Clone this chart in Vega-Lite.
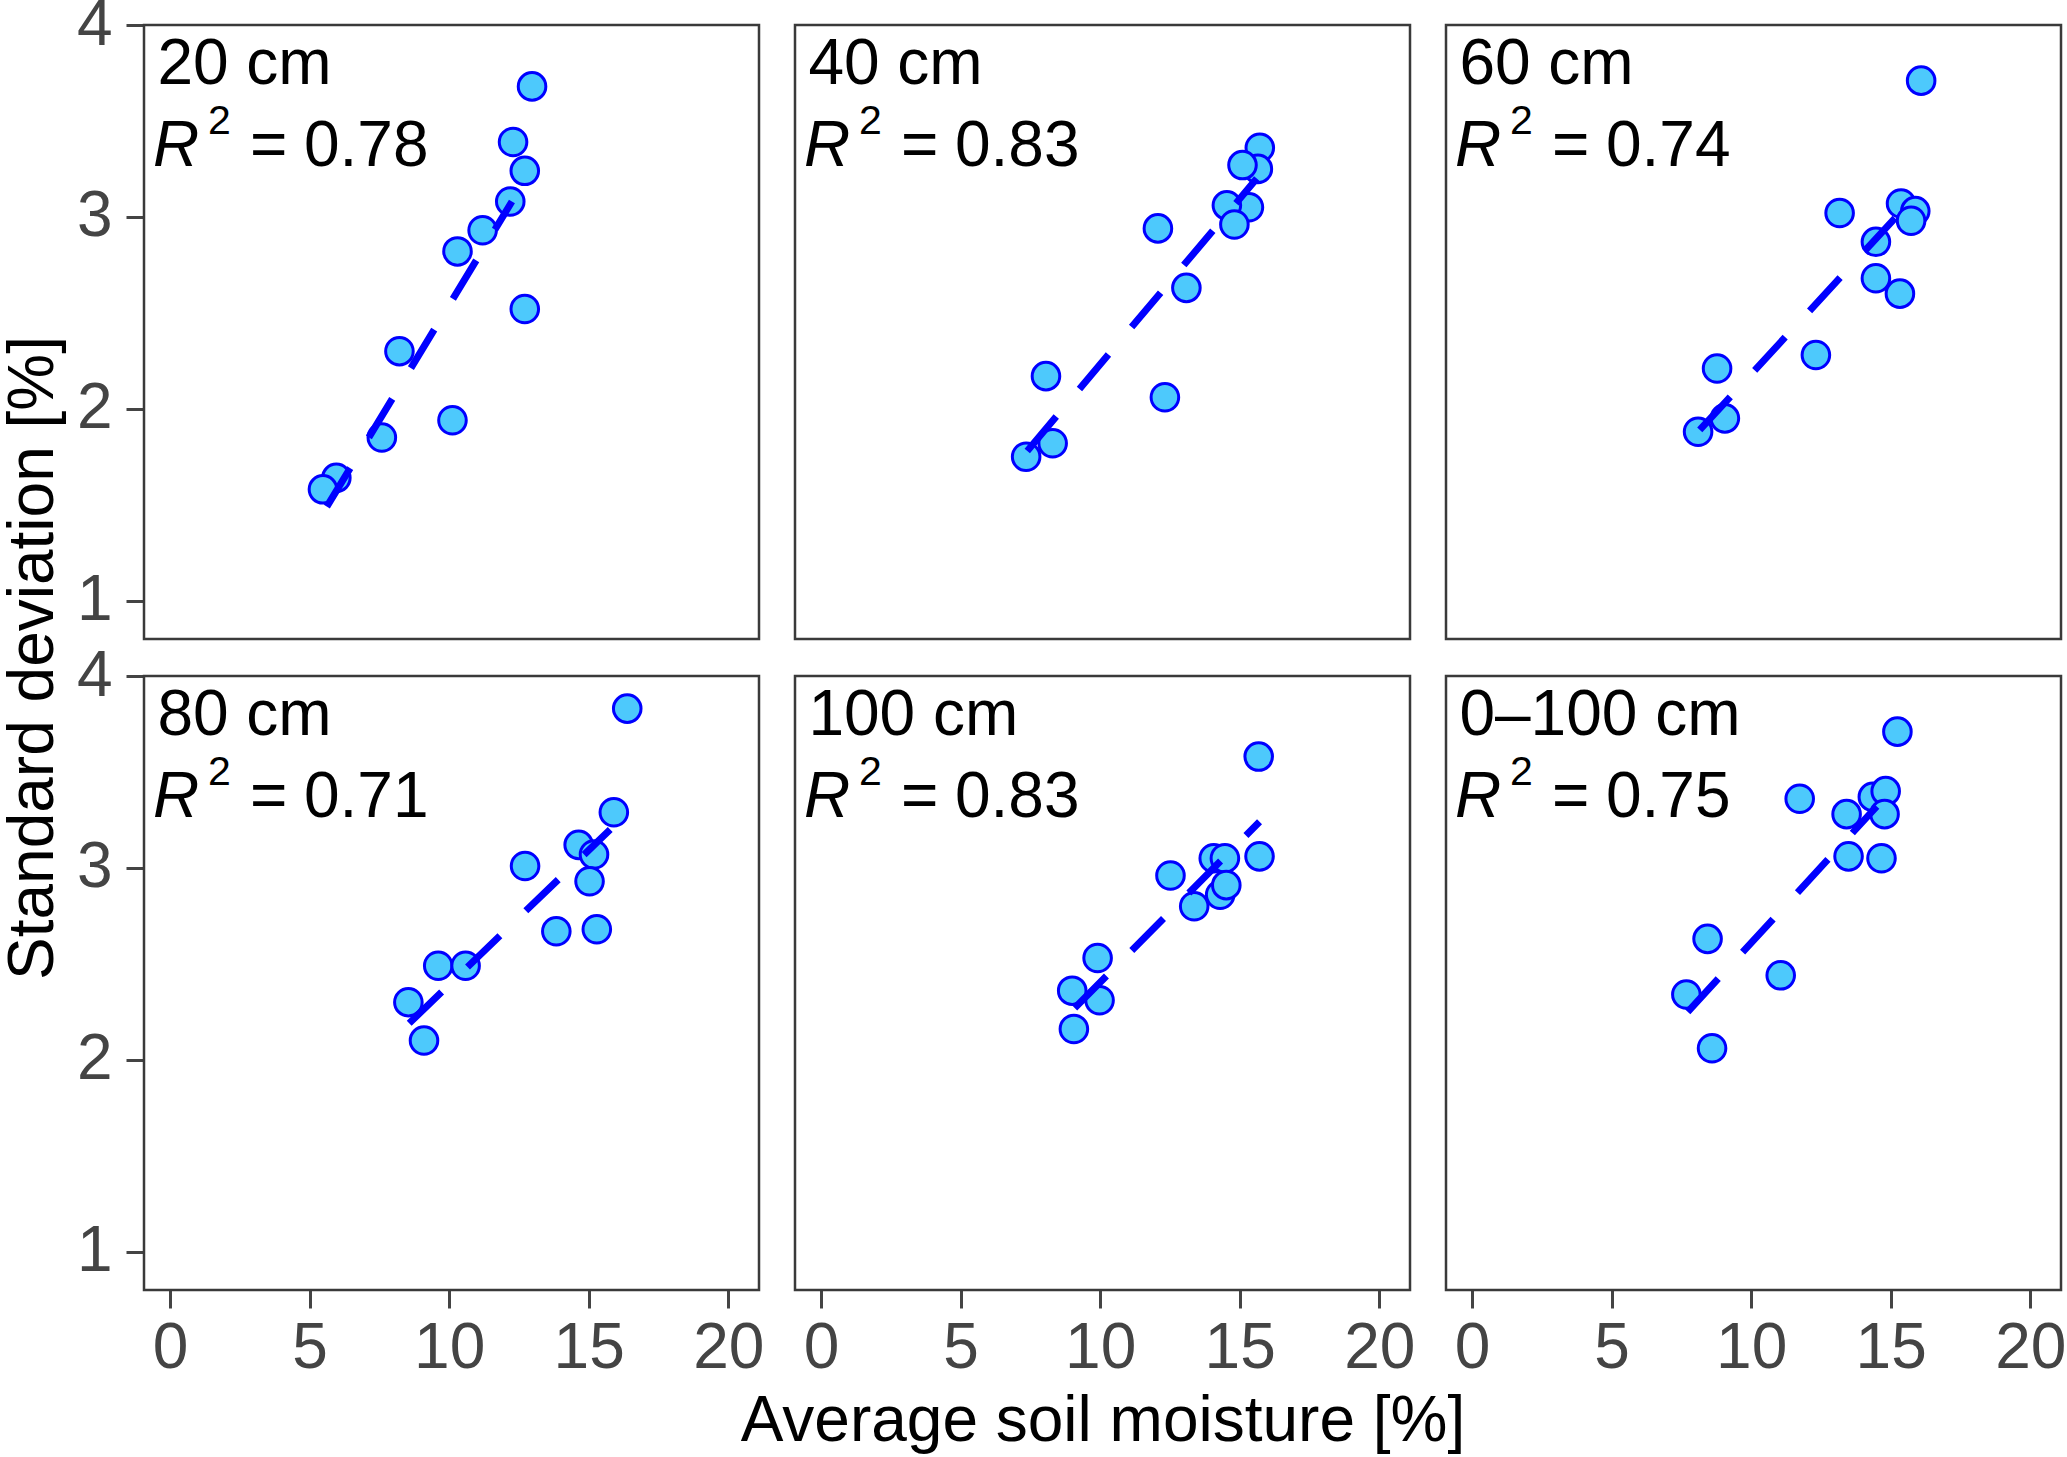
{
  "$schema": "https://vega.github.io/schema/vega-lite/v6.json",
  "description": "Standard deviation vs average soil moisture at six depths, with linear fits.",
  "padding": {"left": 1, "top": -7, "right": 0, "bottom": 0},
  "bounds": "flush",
  "datasets": {
    "panels": [
      {"depth": "20 cm", "r": 1, "c": 1},
      {"depth": "40 cm", "r": 1, "c": 2},
      {"depth": "60 cm", "r": 1, "c": 3},
      {"depth": "80 cm", "r": 2, "c": 1},
      {"depth": "100 cm", "r": 2, "c": 2},
      {"depth": "0–100 cm", "r": 2, "c": 3}
    ],
    "obs": [
      {"depth": "20 cm", "kind": "pt", "x": 12.97, "y": 3.68},
      {"depth": "20 cm", "kind": "pt", "x": 12.29, "y": 3.39},
      {"depth": "20 cm", "kind": "pt", "x": 12.71, "y": 3.24},
      {"depth": "20 cm", "kind": "pt", "x": 12.19, "y": 3.08},
      {"depth": "20 cm", "kind": "pt", "x": 11.20, "y": 2.93},
      {"depth": "20 cm", "kind": "pt", "x": 10.30, "y": 2.82},
      {"depth": "20 cm", "kind": "pt", "x": 12.71, "y": 2.52},
      {"depth": "20 cm", "kind": "pt", "x": 8.22, "y": 2.30},
      {"depth": "20 cm", "kind": "pt", "x": 10.12, "y": 1.94},
      {"depth": "20 cm", "kind": "pt", "x": 7.59, "y": 1.85},
      {"depth": "20 cm", "kind": "pt", "x": 5.96, "y": 1.64},
      {"depth": "20 cm", "kind": "pt", "x": 5.48, "y": 1.58},
      {"depth": "20 cm", "kind": "fit", "x": 5.62, "y": 1.49},
      {"depth": "20 cm", "kind": "fit", "x": 12.25, "y": 3.08},
      {"depth": "20 cm", "kind": "label", "r2": 0.78},

      {"depth": "40 cm", "kind": "pt", "x": 15.72, "y": 3.36},
      {"depth": "40 cm", "kind": "pt", "x": 15.65, "y": 3.25},
      {"depth": "40 cm", "kind": "pt", "x": 15.10, "y": 3.27},
      {"depth": "40 cm", "kind": "pt", "x": 15.33, "y": 3.05},
      {"depth": "40 cm", "kind": "pt", "x": 14.54, "y": 3.06},
      {"depth": "40 cm", "kind": "pt", "x": 14.81, "y": 2.96},
      {"depth": "40 cm", "kind": "pt", "x": 12.07, "y": 2.94},
      {"depth": "40 cm", "kind": "pt", "x": 13.09, "y": 2.63},
      {"depth": "40 cm", "kind": "pt", "x": 8.06, "y": 2.17},
      {"depth": "40 cm", "kind": "pt", "x": 12.32, "y": 2.06},
      {"depth": "40 cm", "kind": "pt", "x": 8.30, "y": 1.82},
      {"depth": "40 cm", "kind": "pt", "x": 7.35, "y": 1.75},
      {"depth": "40 cm", "kind": "fit", "x": 7.39, "y": 1.78},
      {"depth": "40 cm", "kind": "fit", "x": 15.61, "y": 3.20},
      {"depth": "40 cm", "kind": "label", "r2": 0.83},

      {"depth": "60 cm", "kind": "pt", "x": 16.09, "y": 3.71},
      {"depth": "60 cm", "kind": "pt", "x": 13.17, "y": 3.02},
      {"depth": "60 cm", "kind": "pt", "x": 15.37, "y": 3.07},
      {"depth": "60 cm", "kind": "pt", "x": 15.88, "y": 3.03},
      {"depth": "60 cm", "kind": "pt", "x": 15.73, "y": 2.98},
      {"depth": "60 cm", "kind": "pt", "x": 14.47, "y": 2.87},
      {"depth": "60 cm", "kind": "pt", "x": 14.47, "y": 2.68},
      {"depth": "60 cm", "kind": "pt", "x": 15.33, "y": 2.60},
      {"depth": "60 cm", "kind": "pt", "x": 12.32, "y": 2.28},
      {"depth": "60 cm", "kind": "pt", "x": 8.78, "y": 2.21},
      {"depth": "60 cm", "kind": "pt", "x": 9.06, "y": 1.95},
      {"depth": "60 cm", "kind": "pt", "x": 8.10, "y": 1.88},
      {"depth": "60 cm", "kind": "fit", "x": 8.16, "y": 1.89},
      {"depth": "60 cm", "kind": "fit", "x": 16.02, "y": 3.13},
      {"depth": "60 cm", "kind": "label", "r2": 0.74},

      {"depth": "80 cm", "kind": "pt", "x": 16.38, "y": 3.83},
      {"depth": "80 cm", "kind": "pt", "x": 15.90, "y": 3.29},
      {"depth": "80 cm", "kind": "pt", "x": 14.64, "y": 3.12},
      {"depth": "80 cm", "kind": "pt", "x": 15.19, "y": 3.07},
      {"depth": "80 cm", "kind": "pt", "x": 15.03, "y": 2.93},
      {"depth": "80 cm", "kind": "pt", "x": 12.72, "y": 3.01},
      {"depth": "80 cm", "kind": "pt", "x": 13.84, "y": 2.67},
      {"depth": "80 cm", "kind": "pt", "x": 15.29, "y": 2.68},
      {"depth": "80 cm", "kind": "pt", "x": 9.61, "y": 2.49},
      {"depth": "80 cm", "kind": "pt", "x": 10.59, "y": 2.49},
      {"depth": "80 cm", "kind": "pt", "x": 8.54, "y": 2.30},
      {"depth": "80 cm", "kind": "pt", "x": 9.10, "y": 2.10},
      {"depth": "80 cm", "kind": "fit", "x": 8.57, "y": 2.19},
      {"depth": "80 cm", "kind": "fit", "x": 15.77, "y": 3.20},
      {"depth": "80 cm", "kind": "label", "r2": 0.71},

      {"depth": "100 cm", "kind": "pt", "x": 15.68, "y": 3.58},
      {"depth": "100 cm", "kind": "pt", "x": 15.71, "y": 3.06},
      {"depth": "100 cm", "kind": "pt", "x": 14.07, "y": 3.05},
      {"depth": "100 cm", "kind": "pt", "x": 14.47, "y": 3.05},
      {"depth": "100 cm", "kind": "pt", "x": 12.52, "y": 2.96},
      {"depth": "100 cm", "kind": "pt", "x": 14.30, "y": 2.86},
      {"depth": "100 cm", "kind": "pt", "x": 14.52, "y": 2.91},
      {"depth": "100 cm", "kind": "pt", "x": 13.37, "y": 2.80},
      {"depth": "100 cm", "kind": "pt", "x": 9.91, "y": 2.53},
      {"depth": "100 cm", "kind": "pt", "x": 9.00, "y": 2.36},
      {"depth": "100 cm", "kind": "pt", "x": 9.98, "y": 2.31},
      {"depth": "100 cm", "kind": "pt", "x": 9.06, "y": 2.16},
      {"depth": "100 cm", "kind": "fit", "x": 9.09, "y": 2.27},
      {"depth": "100 cm", "kind": "fit", "x": 15.71, "y": 3.24},
      {"depth": "100 cm", "kind": "label", "r2": 0.83},

      {"depth": "0–100 cm", "kind": "pt", "x": 15.24, "y": 3.71},
      {"depth": "0–100 cm", "kind": "pt", "x": 11.74, "y": 3.36},
      {"depth": "0–100 cm", "kind": "pt", "x": 14.36, "y": 3.37},
      {"depth": "0–100 cm", "kind": "pt", "x": 14.82, "y": 3.40},
      {"depth": "0–100 cm", "kind": "pt", "x": 13.42, "y": 3.28},
      {"depth": "0–100 cm", "kind": "pt", "x": 14.78, "y": 3.28},
      {"depth": "0–100 cm", "kind": "pt", "x": 13.49, "y": 3.06},
      {"depth": "0–100 cm", "kind": "pt", "x": 14.67, "y": 3.05},
      {"depth": "0–100 cm", "kind": "pt", "x": 8.44, "y": 2.63},
      {"depth": "0–100 cm", "kind": "pt", "x": 11.06, "y": 2.44},
      {"depth": "0–100 cm", "kind": "pt", "x": 7.68, "y": 2.34},
      {"depth": "0–100 cm", "kind": "pt", "x": 8.60, "y": 2.06},
      {"depth": "0–100 cm", "kind": "fit", "x": 7.73, "y": 2.25},
      {"depth": "0–100 cm", "kind": "fit", "x": 14.50, "y": 3.32},
      {"depth": "0–100 cm", "kind": "label", "r2": 0.75}
    ]
  },
  "data": {"name": "obs"},
  "transform": [
    {"lookup": "depth", "from": {"data": {"name": "panels"}, "key": "depth", "fields": ["r", "c"]}}
  ],
  "facet": {
    "row": {
      "field": "r", "type": "ordinal", "title": "Standard deviation [%]",
      "header": {"labels": false, "titlePadding": 0}
    },
    "column": {
      "field": "c", "type": "ordinal", "title": "Average soil moisture [%]",
      "header": {"labels": false, "titleOrient": "bottom", "labelOrient": "bottom", "titlePadding": 0}
    }
  },
  "spacing": {"row": 37, "column": 36},
  "spec": {
    "width": 615,
    "height": 614,
    "layer": [
      {
        "transform": [{"filter": "datum.kind === 'pt'"}],
        "mark": {"type": "circle", "size": 760, "fill": "#4dc9fc", "stroke": "#0000ff", "strokeWidth": 3, "opacity": 1},
        "encoding": {
          "x": {
            "field": "x", "type": "quantitative",
            "scale": {"domain": [-0.93, 21.1], "nice": false, "zero": false},
            "axis": {"values": [0, 5, 10, 15, 20], "format": "d", "title": null}
          },
          "y": {
            "field": "y", "type": "quantitative",
            "scale": {"domain": [0.8, 4.0], "nice": false, "zero": false},
            "axis": {"values": [1, 2, 3, 4], "format": "d", "title": null}
          }
        }
      },
      {
        "transform": [{"filter": "datum.kind === 'fit'"}],
        "mark": {"type": "line", "color": "#0000ff", "strokeWidth": 7, "strokeDash": [45, 36], "strokeCap": "butt"},
        "encoding": {
          "x": {"field": "x", "type": "quantitative"},
          "y": {"field": "y", "type": "quantitative"}
        }
      },
      {
        "transform": [{"filter": "datum.kind === 'label'"}],
        "mark": {"type": "text", "align": "left", "baseline": "alphabetic", "fontSize": 64, "color": "black"},
        "encoding": {
          "x": {"datum": -0.45, "type": "quantitative"},
          "y": {"datum": 3.691, "type": "quantitative"},
          "text": {"field": "depth", "type": "nominal"}
        }
      },
      {
        "transform": [{"filter": "datum.kind === 'label'"}],
        "mark": {"type": "text", "text": "R", "fontStyle": "italic", "align": "left", "baseline": "alphabetic", "fontSize": 64, "color": "black"},
        "encoding": {
          "x": {"datum": -0.61, "type": "quantitative"},
          "y": {"datum": 3.265, "type": "quantitative"}
        }
      },
      {
        "transform": [{"filter": "datum.kind === 'label'"}],
        "mark": {"type": "text", "text": "2", "align": "left", "baseline": "alphabetic", "fontSize": 41, "color": "black"},
        "encoding": {
          "x": {"datum": 1.36, "type": "quantitative"},
          "y": {"datum": 3.43, "type": "quantitative"}
        }
      },
      {
        "transform": [{"filter": "datum.kind === 'label'"}],
        "mark": {"type": "text", "text": "=", "align": "left", "baseline": "alphabetic", "fontSize": 64, "color": "black"},
        "encoding": {
          "x": {"datum": 2.87, "type": "quantitative"},
          "y": {"datum": 3.265, "type": "quantitative"}
        }
      },
      {
        "transform": [{"filter": "datum.kind === 'label'"}],
        "mark": {"type": "text", "align": "left", "baseline": "alphabetic", "fontSize": 64, "color": "black"},
        "encoding": {
          "x": {"datum": 4.8, "type": "quantitative"},
          "y": {"datum": 3.265, "type": "quantitative"},
          "text": {"field": "r2", "type": "quantitative", "format": ".2f"}
        }
      }
    ]
  },
  "config": {
    "font": "Liberation Sans",
    "view": {"stroke": "#3a3a3a", "strokeWidth": 2.5},
    "axis": {
      "grid": false,
      "domain": false,
      "tickColor": "#444444",
      "tickWidth": 3,
      "tickSize": 18,
      "labelFontSize": 64,
      "labelColor": "#444444",
      "labelFlush": false,
      "labelOverlap": false
    },
    "axisX": {"labelPadding": 8},
    "axisY": {"labelPadding": 14},
    "header": {
      "titleFontSize": 64,
      "titleFontWeight": "normal",
      "titleColor": "black"
    }
  }
}
